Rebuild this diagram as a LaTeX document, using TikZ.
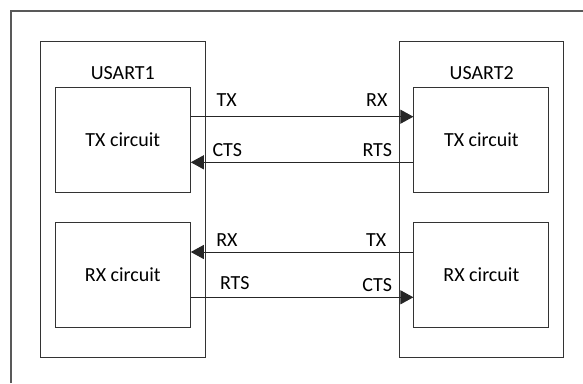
\documentclass[tikz,border=0pt]{standalone}
\usepackage{fontspec}
\setmainfont{Carlito}
\usetikzlibrary{arrows.meta}
\begin{document}
\begin{tikzpicture}[x=1pt,y=-1pt,
  box/.style={draw=black!80, line width=1pt, inner sep=0pt, minimum width=#1},
  usart/.style={box=164.4pt, minimum height=316pt},
  circ/.style={box=135pt, minimum height=105pt, font=\fontsize{20}{24}\selectfont},
  lbl/.style={inner sep=0pt, font=\fontsize{20}{24}\selectfont},
  conn/.style={draw=black!85, line width=1pt, -{Triangle[length=13pt,width=14pt]}},
  frame/.style={draw=black!65, line width=1.3pt}]
\useasboundingbox (0,0) rectangle (583,383);
\coordinate (fa) at (11,383);
\coordinate (fb) at (11,11);
\coordinate (fc) at (583,11);
\draw[frame] (fa) -- (fb) -- (fc);
\node[usart] (u1) at (122.85,199.3) {};
\node[usart] (u2) at (481.5,199.3) {};
\node[lbl] (u1l) at (122.8,72.7) {USART1};
\node[lbl] (u2l) at (481.7,72.7) {USART2};
\node[circ] (txl) at (122.8,139.5) {TX circuit};
\node[circ] (rxl) at (122.8,274.65) {RX circuit};
\node[circ] (txr) at (481.35,139.5) {TX circuit};
\node[circ] (rxr) at (481.35,274.65) {RX circuit};
\draw[conn] ([yshift=22.8pt]txl.east) -- ([yshift=22.8pt]txr.west);
\draw[conn] ([yshift=-22.8pt]txr.west) -- ([yshift=-22.8pt]txl.east);
\draw[conn] ([yshift=22.65pt]rxr.west) -- ([yshift=22.65pt]rxl.east);
\draw[conn] ([yshift=-22.65pt]rxl.east) -- ([yshift=-22.65pt]rxr.west);
\node[lbl] (a1) at (226.7,100) {TX};
\node[lbl] (a2) at (227.3,150) {CTS};
\node[lbl] (a3) at (376.8,100) {RX};
\node[lbl] (a4) at (377.3,150) {RTS};
\node[lbl] (b1) at (227,240) {RX};
\node[lbl] (b2) at (234.8,283) {RTS};
\node[lbl] (b3) at (376.2,240) {TX};
\node[lbl] (b4) at (377.2,285.5) {CTS};
\end{tikzpicture}
\end{document}
